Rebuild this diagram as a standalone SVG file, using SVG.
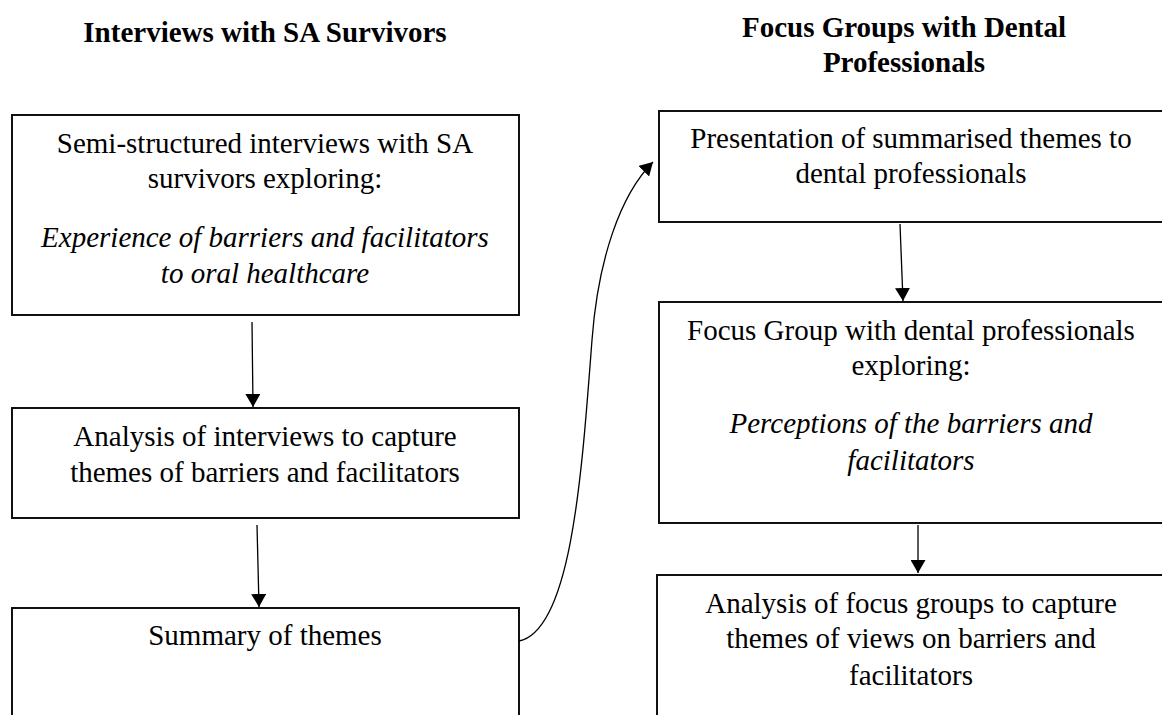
<svg xmlns="http://www.w3.org/2000/svg" width="1162" height="715" viewBox="0 0 1162 715">
  <style>
    .box { fill: #ffffff; stroke: #111111; stroke-width: 2; }
    .t { font-family: "Liberation Serif", "Times New Roman", serif; font-size: 29px; fill: #000000; text-anchor: middle; }
    .title { font-weight: bold; }
    .it { font-style: italic; }
    .conn { fill: none; stroke: #000000; stroke-width: 1.3; }
  </style>
  <defs>
    <marker id="arrow" markerUnits="userSpaceOnUse" viewBox="0 0 13 15" refX="13" refY="7.5" markerWidth="13" markerHeight="15" orient="auto">
      <path d="M0,0 L13,7.5 L0,15 z" fill="#000000"/>
    </marker>
  </defs>
  <rect width="1162" height="715" fill="#ffffff"/>

  <g id="title-left">
    <text class="t title" x="265" y="42">Interviews with SA Survivors</text>
  </g>
  <g id="title-right">
    <text class="t title" x="904" y="37">Focus Groups with Dental</text>
    <text class="t title" x="904" y="72">Professionals</text>
  </g>

  <g id="node-semi-structured">
    <rect class="box" x="12" y="115" width="507" height="200"/>
    <text class="t" x="265" y="153">Semi-structured interviews with SA</text>
    <text class="t" x="265" y="188">survivors exploring:</text>
    <text class="t it" x="265" y="247">Experience of barriers and facilitators</text>
    <text class="t it" x="265" y="283">to oral healthcare</text>
  </g>

  <g id="node-analysis-interviews">
    <rect class="box" x="12" y="408" width="507" height="110"/>
    <text class="t" x="265" y="446">Analysis of interviews to capture</text>
    <text class="t" x="265" y="482">themes of barriers and facilitators</text>
  </g>

  <g id="node-summary">
    <rect class="box" x="12" y="608" width="507" height="130"/>
    <text class="t" x="265" y="645">Summary of themes</text>
  </g>

  <g id="node-presentation">
    <rect class="box" x="659" y="111" width="520" height="111"/>
    <text class="t" x="911" y="148">Presentation of summarised themes to</text>
    <text class="t" x="911" y="183">dental professionals</text>
  </g>

  <g id="node-focus-group">
    <rect class="box" x="659" y="302" width="520" height="221"/>
    <text class="t" x="911" y="340">Focus Group with dental professionals</text>
    <text class="t" x="911" y="375">exploring:</text>
    <text class="t it" x="911" y="433">Perceptions of the barriers and</text>
    <text class="t it" x="911" y="470">facilitators</text>
  </g>

  <g id="node-analysis-focus">
    <rect class="box" x="657" y="575" width="522" height="160"/>
    <text class="t" x="911" y="613">Analysis of focus groups to capture</text>
    <text class="t" x="911" y="648">themes of views on barriers and</text>
    <text class="t" x="911" y="685">facilitators</text>
  </g>

  <g id="connectors">
    <line class="conn" x1="252" y1="322" x2="253" y2="407" marker-end="url(#arrow)"/>
    <line class="conn" x1="257" y1="525" x2="259" y2="607" marker-end="url(#arrow)"/>
    <path class="conn" d="M519,641 C572,630 582,470 592,340 C598,260 620,195 653,162" marker-end="url(#arrow)"/>
    <line class="conn" x1="900" y1="224" x2="903" y2="301" marker-end="url(#arrow)"/>
    <line class="conn" x1="918" y1="525" x2="918" y2="573" marker-end="url(#arrow)"/>
  </g>
</svg>
